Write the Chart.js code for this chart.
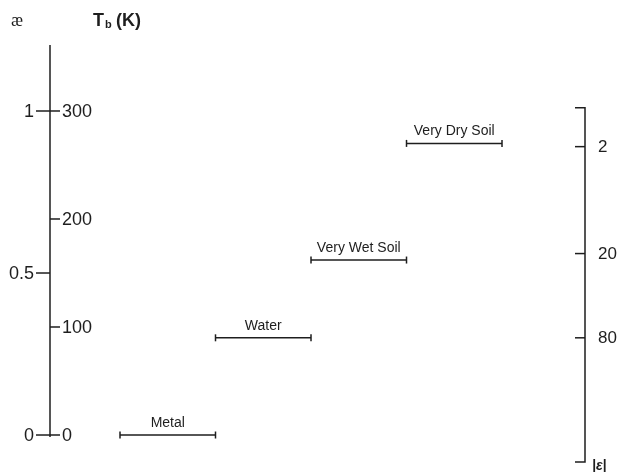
<!DOCTYPE html>
<html>
<head>
<meta charset="UTF-8">
<title>Emissivity and brightness temperature</title>
<script src="https://cdn.jsdelivr.net/npm/chart.js"></script>
<style>
    body { margin: 0; background: #fff; }
    .wrap { width: 618px; height: 472px; }
</style>
</head>
<body>
<div class="wrap"><canvas id="chart"></canvas></div>
<script>
// materials and their emissivity level
const materials = ['Metal', 'Water', 'Very Wet Soil', 'Very Dry Soil'];
const emissivity = [0, 0.30, 0.54, 0.90];
const spanStart = [0, 1, 2, 3];
const spanEnd = [1, 2, 3, 4];

// axis ticks
const emisTicks = [0, 0.5, 1];
const tbTicks = [0, 100, 200, 300];
const epsLabels = ['2', '20', '80'];
const epsAtEmis = [0.89, 0.56, 0.30];

const ink = '#1e1e1e';

const datasets = materials.map((m, i) => ({
    label: m,
    data: [{ x: spanStart[i], y: emissivity[i] }, { x: spanEnd[i], y: emissivity[i] }],
    showLine: true,
    borderColor: ink,
    borderWidth: 1.5,
    pointStyle: 'line',
    rotation: 90,
    pointRadius: 3.5,
    pointBorderColor: ink,
    pointBorderWidth: 1.5
}));

const axesPlugin = {
    id: 'axes',
    afterDraw(chart) {
        const ctx = chart.ctx;
        const area = chart.chartArea;
        const e = chart.scales.y;
        const tb = chart.scales.tb;
        const x = chart.scales.x;
        ctx.save();
        ctx.strokeStyle = ink;
        ctx.fillStyle = ink;
        ctx.lineWidth = 1.5;

        // left double axis
        const lx = area.left;
        ctx.beginPath();
        ctx.moveTo(lx, area.top);
        ctx.lineTo(lx, e.getPixelForValue(0) + 2);
        ctx.stroke();

        ctx.font = '18px "Liberation Sans", Arial, sans-serif';
        ctx.textBaseline = 'middle';
        ctx.textAlign = 'right';
        emisTicks.forEach(v => {
            const py = e.getPixelForValue(v);
            ctx.beginPath();
            ctx.moveTo(lx - 14, py);
            ctx.lineTo(lx, py);
            ctx.stroke();
            ctx.fillText(String(v), lx - 16, py + 1);
        });
        ctx.textAlign = 'left';
        tbTicks.forEach(v => {
            const py = tb.getPixelForValue(v);
            ctx.beginPath();
            ctx.moveTo(lx, py);
            ctx.lineTo(lx + 10, py);
            ctx.stroke();
            ctx.fillText(String(v), lx + 12, py + 1);
        });

        // right |eps| axis
        const rx = area.right;
        const rTop = e.getPixelForValue(1.01);
        ctx.beginPath();
        ctx.moveTo(rx - 10, rTop);
        ctx.lineTo(rx, rTop);
        ctx.lineTo(rx, area.bottom);
        ctx.lineTo(rx - 10, area.bottom);
        ctx.stroke();
        ctx.font = '17px "Liberation Sans", Arial, sans-serif';
        epsLabels.forEach((lab, i) => {
            const py = e.getPixelForValue(epsAtEmis[i]);
            ctx.beginPath();
            ctx.moveTo(rx - 10, py);
            ctx.lineTo(rx, py);
            ctx.stroke();
            ctx.fillText(lab, rx + 13, py + 1);
        });
        ctx.font = 'italic bold 14px "Liberation Sans", Arial, sans-serif';
        ctx.fillText('|\u03b5|', rx + 7, area.bottom + 4);

        // header labels
        ctx.font = '18px "Liberation Serif", "Times New Roman", serif';
        ctx.fillText('\u00e6', 11, 21);
        ctx.font = 'bold 18px "Liberation Sans", Arial, sans-serif';
        ctx.fillText('T', 93, 21);
        ctx.font = 'bold 11px "Liberation Sans", Arial, sans-serif';
        ctx.fillText('b', 105, 25);
        ctx.font = 'bold 18px "Liberation Sans", Arial, sans-serif';
        ctx.fillText('(K)', 116, 21);

        // material labels
        ctx.font = '14px "Liberation Sans", Arial, sans-serif';
        ctx.textAlign = 'center';
        materials.forEach((m, i) => {
            const cx = x.getPixelForValue((spanStart[i] + spanEnd[i]) / 2);
            const py = e.getPixelForValue(emissivity[i]);
            ctx.fillText(m, cx, py - 12);
        });
        ctx.restore();
    }
};

new Chart(document.getElementById('chart'), {
    type: 'scatter',
    data: { datasets },
    options: {
        responsive: true,
        maintainAspectRatio: false,
        animation: false,
        layout: { padding: { left: 50, right: 33, top: 45, bottom: 10 } },
        plugins: { legend: { display: false }, tooltip: { enabled: false } },
        scales: {
            x: { type: 'linear', display: false, min: -0.733, max: 4.869 },
            y: { type: 'linear', display: false, min: -0.0833, max: 1.2037 },
            tb: { type: 'linear', display: false, position: 'left', min: -25, max: 361.1 }
        }
    },
    plugins: [axesPlugin]
});
</script>
</body>
</html>
